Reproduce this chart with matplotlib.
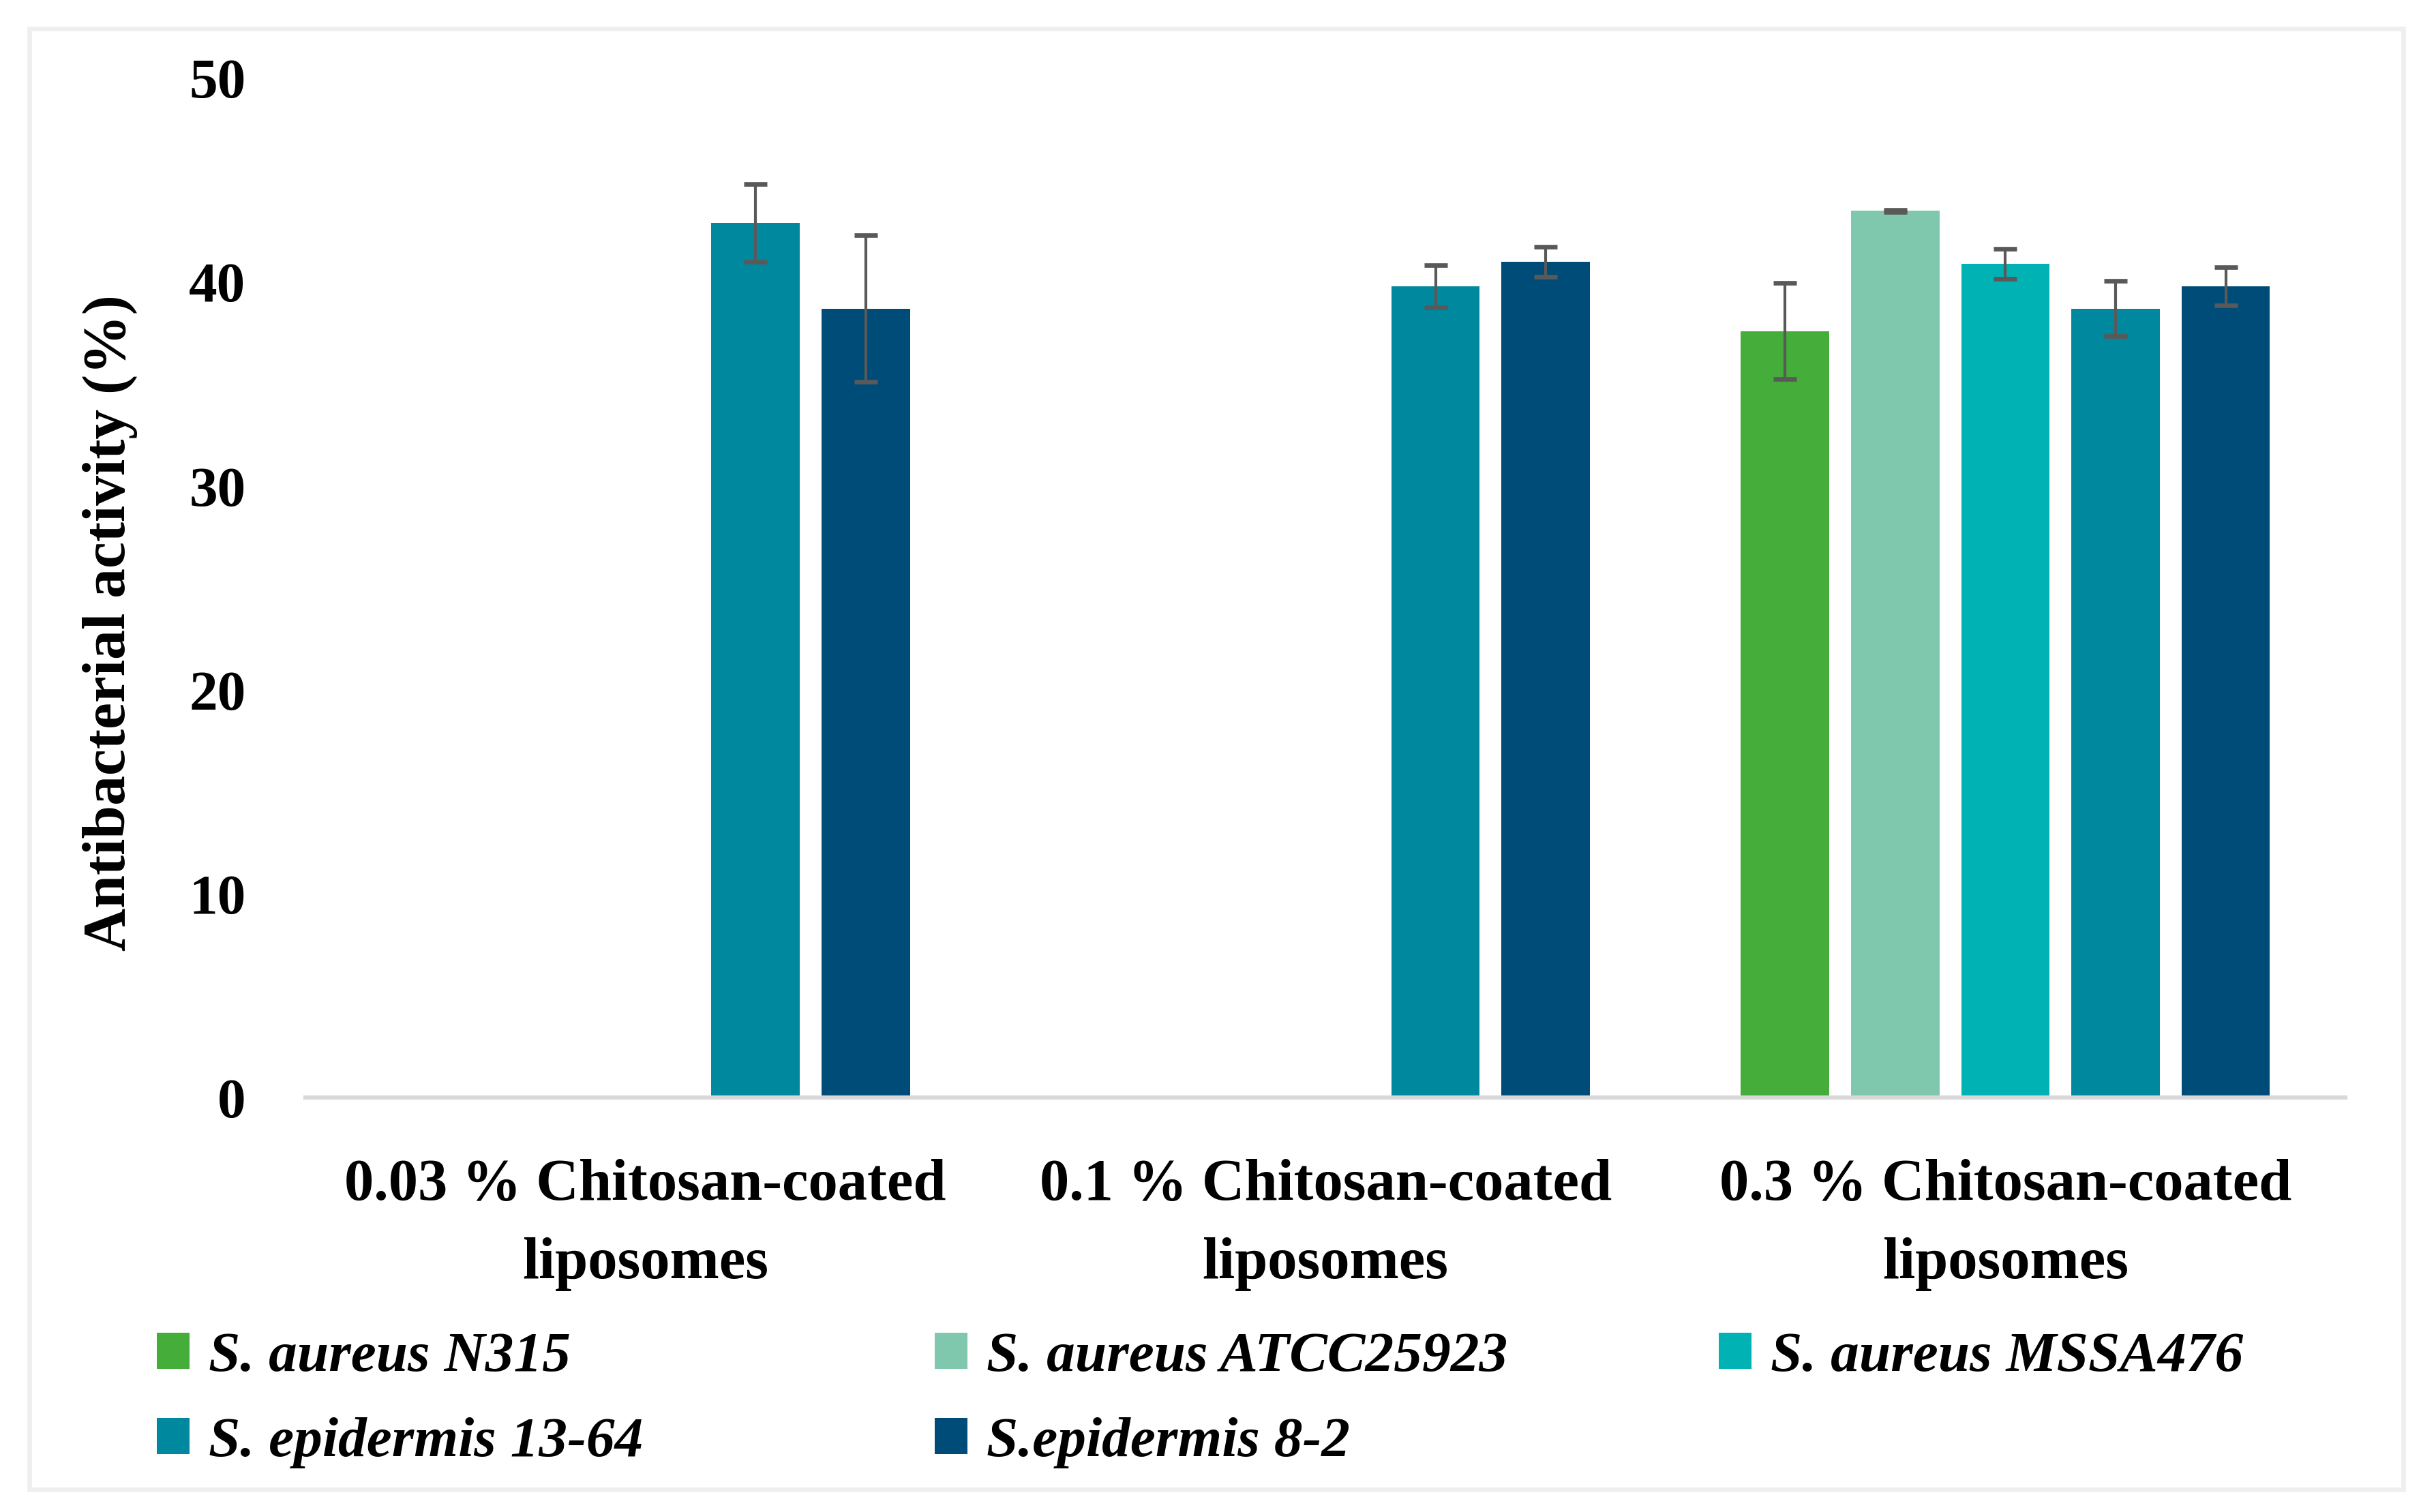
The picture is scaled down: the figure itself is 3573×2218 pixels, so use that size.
import matplotlib
matplotlib.use('Agg')
import matplotlib.pyplot as plt
import matplotlib.patches as mpatches
import numpy as np

plt.rcParams['font.family'] = ['Liberation Serif', 'DejaVu Serif']

# data (nan = no bar drawn)
groups = ['0.03 % Chitosan-coated\nliposomes',
          '0.1 % Chitosan-coated\nliposomes',
          '0.3 % Chitosan-coated\nliposomes']
strains = ['S. aureus N315', 'S. aureus ATCC25923', 'S. aureus MSSA476',
           'S. epidermis 13-64', 'S.epidermis 8-2']
n315 = [np.nan, np.nan, 37.6]
n315_err = [np.nan, np.nan, 2.35]
atcc = [np.nan, np.nan, 43.5]
atcc_err = [np.nan, np.nan, 0.05]
mssa = [np.nan, np.nan, 40.9]
mssa_err = [np.nan, np.nan, 0.75]
epi1364 = [42.9, 39.8, 38.7]
epi1364_err = [1.9, 1.05, 1.35]
epi82 = [38.7, 41.0, 39.8]
epi82_err = [3.6, 0.75, 0.93]

colors = ['#45AD3A', '#7FC8AE', '#00B2B4', '#00889E', '#004C79']
values = [n315, atcc, mssa, epi1364, epi82]
errors = [n315_err, atcc_err, mssa_err, epi1364_err, epi82_err]

fig = plt.figure(figsize=(3573 / 300, 2218 / 300), dpi=300)
ax = fig.add_axes([0.1254, 0.2741, 0.8374, 0.6741])

x = np.arange(len(groups))
step = 0.162
width = 0.13
handles = []
for i, (v, e, c) in enumerate(zip(values, errors, colors)):
    pos = x + (i - 2) * step
    b = ax.bar(pos, v, width, color=c, label=strains[i], zorder=2)
    ax.errorbar(pos, v, yerr=e, fmt='none', ecolor='#595959', elinewidth=1.0,
                capsize=4, capthick=1.6, zorder=3)
    handles.append(b)

ax.set_xlim(-0.5, 2.5)
ax.set_ylim(0, 50)
ax.set_yticks([0, 10, 20, 30, 40, 50])
ax.set_xticks(x)
ax.set_xticklabels(groups, fontsize=20.8, fontweight='bold', linespacing=1.6)
for t in ax.get_yticklabels():
    t.set_fontsize(20)
    t.set_fontweight('bold')
ax.tick_params(axis='both', length=0)
ax.tick_params(axis='x', pad=21.5)
ax.tick_params(axis='y', pad=21)
for s in ['top', 'right', 'left']:
    ax.spines[s].set_visible(False)
ax.spines['bottom'].set_color('#D9D9D9')
ax.spines['bottom'].set_linewidth(1.5)

fig.text(0.0453, 0.588, 'Antibacterial activity (%)', rotation=90,
         ha='center', va='center', fontsize=21, fontweight='bold')

# legend laid out as three columns, row by row like the original
cols = [[0, 3], [1, 4], [2]]
col_x = [0.0644, 0.3837, 0.7056]
for idx, cx in zip(cols, col_x):
    leg = fig.legend([handles[i] for i in idx], [strains[i] for i in idx],
                     loc='upper left', bbox_to_anchor=(cx, 0.119),
                     frameon=False, borderpad=0, borderaxespad=0,
                     handlelength=0.58, handleheight=0.61, handletextpad=0.33,
                     labelspacing=0.6,
                     prop={'size': 20, 'style': 'italic', 'weight': 'bold'})

# light border round the whole picture
fig.patches.append(mpatches.Rectangle((0.012, 0.0149), 0.9746, 0.9661,
                                      transform=fig.transFigure, fill=False,
                                      edgecolor='#EFEFEF', linewidth=1.6))

fig.savefig('out.png', dpi=300, facecolor='white')
